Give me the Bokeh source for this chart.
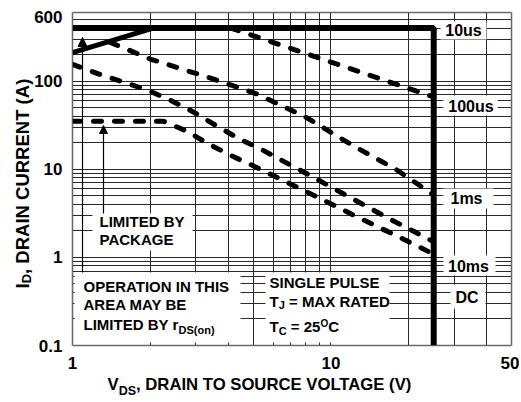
import math
from bokeh.plotting import figure
from bokeh.models import (Range1d, FixedTicker, Label, BoxAnnotation, Arrow, NormalHead)
from bokeh.embed import file_html
from bokeh.resources import INLINE

# ---------------- data ----------------
x_major = [1, 10, 50]
x_major_text = ["1", "10", "50"]
y_major = [0.1, 1, 10, 100, 600]
y_major_text = ["0.1", "1", "10", "100", "600"]
x_grid = [1, 2, 3, 4, 5, 6, 7, 8, 9, 10, 20, 30, 40, 50]
y_grid = [0.1, 0.2, 0.3, 0.4, 0.5, 0.6, 0.7, 0.8, 0.9,
          1, 2, 3, 4, 5, 6, 7, 8, 9,
          10, 20, 30, 40, 50, 60, 70, 80, 90,
          100, 200, 300, 400, 500, 600]

limit_v = [1.0, 25.0, 25.0]          # 10us / package current limit / max VDS
limit_i = [400.0, 400.0, 0.1]
rds_v = [1.0, 2.05]                  # rDS(on) limit
rds_i = [210.0, 400.0]
us100_v = [4.1, 25.0]
us100_i = [400.0, 66.0]
ms1_v = [1.4, 2.0, 3.5, 5.2, 8.0, 12.0, 18.0, 25.0]
ms1_i = [275.0, 178.0, 106.0, 71.0, 39.0, 19.0, 9.8, 5.1]
ms10_v = [1.0, 1.32, 1.62, 1.97, 2.38, 2.92, 3.58, 4.43, 5.34, 8.0, 12.0, 17.0, 24.5]
ms10_i = [155.0, 115.0, 95.0, 78.0, 61.0, 45.0, 31.5, 22.0, 17.0, 9.0, 4.7, 2.7, 1.55]
dc_v = [1.0, 2.25, 2.79, 3.33, 4.09, 4.98, 8.0, 12.0, 18.0, 24.8]
dc_i = [35.0, 35.0, 26.8, 19.6, 14.4, 11.0, 5.6, 3.1, 1.75, 1.1]

series_labels = ["10us", "100us", "1ms", "10ms", "DC"]

# ---------------- layout helpers (page pixel -> data) ----------------
CW, CH = 519, 400                 # canvas size
FL, FR, FT, FB = 72, 511, 12, 345  # plot box in page pixels
LOGX = math.log10(50 / 1)
LOGY = math.log10(600 / 0.1)


def vx(px):
    return 10 ** ((px - FL) / (FR - FL) * LOGX)


def iy(py):
    return 0.1 * 10 ** ((FB - py) / (FB - FT) * LOGY)


W = {' ': 278, ',': 278, '(': 333, ')': 333, '=': 584, '.': 278,
     '0': 556, '1': 556, '2': 556, '5': 556, '6': 556,
     'A': 722, 'B': 722, 'C': 722, 'D': 722, 'E': 667, 'G': 778, 'H': 722,
     'I': 278, 'J': 556, 'K': 722, 'L': 611, 'M': 833, 'N': 722, 'O': 778,
     'P': 667, 'R': 722, 'S': 667, 'T': 611, 'U': 722, 'V': 667, 'X': 667,
     'Y': 667, 'a': 556, 'o': 611, 'n': 611, 'r': 389, 'u': 611, 's': 556,
     'm': 889}


def tw(s, size):
    return sum(W.get(c, 600) for c in s) * size / 1000.0


FONT = "Liberation Sans"

x_lo, x_hi = vx(0), vx(CW)
y_lo, y_hi = iy(CH), iy(0)

p = figure(width=CW, height=CH, x_axis_type="log", y_axis_type="log",
           x_range=Range1d(x_lo, x_hi), y_range=Range1d(y_lo, y_hi),
           x_axis_location=None, y_axis_location=None,
           output_backend="svg", toolbar_location=None, min_border=0)
p.background_fill_color = "white"
p.border_fill_color = "white"
p.outline_line_color = None

p.xgrid.ticker = FixedTicker(ticks=x_grid, minor_ticks=[])
p.ygrid.ticker = FixedTicker(ticks=y_grid, minor_ticks=[])
if "cross_bounds" in p.xgrid[0].properties():
    p.xgrid[0].cross_bounds = (y_major[0], y_major[-1])
    p.ygrid[0].cross_bounds = (x_major[0], x_major[-1])
p.grid.grid_line_color = "#2a2a2a"
p.grid.grid_line_width = 1
p.grid.grid_line_alpha = 1

# ---------------- curves ----------------
p.line(limit_v, limit_i, line_width=6, line_color="black")
p.line(rds_v, rds_i, line_width=5, line_color="black")
for v, i in [(us100_v, us100_i), (ms1_v, ms1_i), (ms10_v, ms10_i), (dc_v, dc_i)]:
    p.line(v, i, line_width=5, line_color="black", line_dash="8 13", line_cap="round")


# ---------------- annotations ----------------
def box(left, right, bottom, top, **kw):
    p.add_layout(BoxAnnotation(left=left, right=right, bottom=bottom, top=top,
                               level="annotation", **kw))


def wbox(x0, y0, x1, y1):
    box(vx(x0), vx(x1), iy(y1), iy(y0), fill_color="white", fill_alpha=1.0, line_color=None)


# white surround outside the plot box (hides grid lines there)
ox_lo, ox_hi, oy_lo, oy_hi = x_lo / 3, x_hi * 3, y_lo / 3, y_hi * 3
box(ox_lo, x_major[0], oy_lo, oy_hi, fill_color="white", fill_alpha=1.0, line_color=None)
box(x_major[-1], ox_hi, oy_lo, oy_hi, fill_color="white", fill_alpha=1.0, line_color=None)
box(ox_lo, ox_hi, oy_lo, y_major[0], fill_color="white", fill_alpha=1.0, line_color=None)
box(ox_lo, ox_hi, y_major[-1], oy_hi, fill_color="white", fill_alpha=1.0, line_color=None)
# plot frame
box(x_major[0], x_major[-1], y_major[0], y_major[-1], fill_color=None, fill_alpha=0,
    line_color="black", line_width=2)


def lab(x, y, t, size, align="left", baseline="middle", xo=0, yo=0, angle=0):
    p.add_layout(Label(x=vx(x), y=iy(y), x_offset=xo, y_offset=yo, text=t, angle=angle,
                       text_font=FONT, text_font_style="bold",
                       text_font_size=f"{size}px", text_color="black",
                       text_align=align, text_baseline=baseline))


def rich(x, y, pieces):
    off = 0.0
    for t, s, dy in pieces:
        lead = len(t) - len(t.lstrip(' '))
        off += lead * W[' '] * s / 1000.0
        core = t.strip(' ')
        lab(x, y, core, s, xo=off, yo=-dy)
        off += tw(core, s) + (len(t) - len(t.rstrip(' '))) * W[' '] * s / 1000.0


def rich_rot(x, y, pieces):
    off = 0.0
    for t, s, dx in pieces:
        lead = len(t) - len(t.lstrip(' '))
        off += lead * W[' '] * s / 1000.0
        core = t.strip(' ')
        lab(x, y, core, s, baseline="alphabetic", xo=dx, yo=off, angle=math.pi / 2)
        off += tw(core, s)


# white boxes behind the texts
wbox(92, 213, 192, 250)      # limited by package
wbox(74, 272, 240, 342)      # operation in this area
wbox(265, 272, 389, 342)     # single pulse
wbox(440, 21, 486, 39)       # 10us
wbox(443, 95, 497, 115)      # 100us
wbox(443, 188, 493, 208)     # 1ms
wbox(443, 255, 495, 275)     # 10ms
wbox(450, 284, 485, 308)     # DC

# arrows
p.add_layout(Arrow(end=NormalHead(size=9, fill_color="black", line_color="black", line_width=1),
                   x_start=vx(82), y_start=iy(272), x_end=vx(82), y_end=iy(37),
                   line_width=1.2, line_color="black"))
p.add_layout(Arrow(end=NormalHead(size=8, fill_color="black", line_color="black", line_width=1),
                   x_start=vx(103), y_start=iy(213), x_end=vx(103), y_end=iy(125),
                   line_width=1.2, line_color="black"))

# series labels
for t, (cx, cy) in zip(series_labels, [(463, 30), (470.5, 106), (466, 198), (468, 266), (466.5, 297)]):
    lab(cx, cy, t, 16, align="center")

# text blocks
lab(99, 221, "LIMITED BY", 15)
lab(99, 239, "PACKAGE", 15)
lab(83, 286, "OPERATION IN THIS", 15)
lab(83, 304, "AREA MAY BE", 15)
rich(83, 324, [("LIMITED BY r", 15, 0), ("DS(on)", 11, 5)])
lab(269, 281.5, "SINGLE PULSE", 15)
rich(269, 300.5, [("T", 15, 0), ("J", 11, 4), (" = MAX RATED", 15, 0)])
rich(269, 326, [("T", 15, 0), ("C", 11, 4), (" = 25", 15, 0), ("O", 10, -3), ("C", 15, 0)])

# tick labels
for v, t in zip(x_major, x_major_text):
    xo = -1.5 if v == x_major[-1] else 0
    p.add_layout(Label(x=v, y=iy(362), x_offset=xo, text=t, text_font=FONT,
                       text_font_style="bold", text_font_size="17px", text_color="black",
                       text_align="center", text_baseline="middle"))
for v, t in zip(y_major, y_major_text):
    yo = -4.5 if v == y_major[-1] else 0
    p.add_layout(Label(x=vx(62), y=v, y_offset=yo, text=t, text_font=FONT,
                       text_font_style="bold", text_font_size="17px", text_color="black",
                       text_align="right", text_baseline="middle"))

# axis titles
rich(107, 384, [("V", 16.7, 0), ("DS", 12.5, 6), (", DRAIN TO SOURCE VOLTAGE (V)", 16.7, 0)])
rich_rot(22, 288, [("I", 18.5, 0), ("D", 13, 4), (", DRAIN CURRENT (A)", 18.5, 0)])

open("out.html", "w").write(file_html(p, INLINE))
